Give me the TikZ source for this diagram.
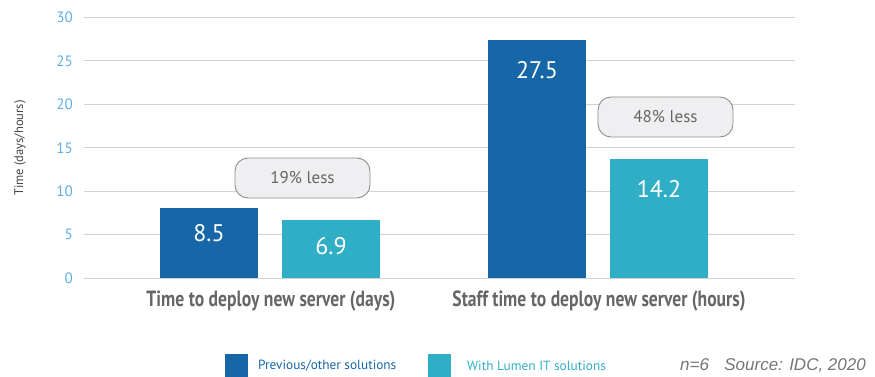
\documentclass[tikz,border=0pt]{standalone}
\usepackage{fontspec}
\setmainfont{PT Sans}
\newfontfamily\cond[FakeStretch=0.80]{PT Sans}
\newfontfamily\srcfont{Liberation Sans}
\definecolor{darkbar}{HTML}{1766A8}
\definecolor{tealbar}{HTML}{30AEC6}
\definecolor{gridc}{HTML}{D2D2D2}
\definecolor{tickc}{HTML}{5CAEE2}
\definecolor{labc}{HTML}{666666}
\definecolor{titc}{HTML}{444444}
\definecolor{bubfill}{HTML}{EFEFF1}
\definecolor{bubdraw}{HTML}{8E8E8E}
\tikzset{
  gridline/.style={draw=gridc, line width=1pt},
  tick/.style={anchor=east, text=tickc, font=\fontsize{15}{15}\selectfont, inner sep=0pt},
  barA/.style={fill=darkbar, draw=none, minimum width=98pt, anchor=south, inner sep=0pt},
  barB/.style={fill=tealbar, draw=none, minimum width=98pt, anchor=south, inner sep=0pt},
  val/.style={text=white, font=\fontsize{24}{24}\selectfont, inner sep=0pt},
  bubble/.style={fill=bubfill, draw=bubdraw, line width=0.9pt, rounded corners=13pt, minimum width=135pt, minimum height=40pt, text=labc, font=\fontsize{17}{17}\selectfont, inner sep=0pt},
  cat/.style={text=labc, font=\cond\bfseries\fontsize{22}{22}\selectfont, inner sep=0pt},
  legbox/.style={minimum width=23pt, minimum height=23pt, inner sep=0pt, draw=none},
  legtxt/.style={anchor=west, font=\fontsize{13.3}{13.3}\selectfont, inner sep=0pt},
}
\begin{document}
\begin{tikzpicture}[x=1pt,y=-1pt]
\useasboundingbox (0,0) rectangle (875,377);
% grid
\foreach \v/\yy in {0/278,5/234.6,10/191.2,15/147.8,20/104.4,25/61,30/17.5}{
  \draw[gridline] (84,\yy) -- (795,\yy);
  \node[tick] (t\v) at (73,\yy) {\v};
}
\node[rotate=90, text=titc, font=\fontsize{12.5}{12.5}\selectfont, inner sep=0pt] (ytitle) at (20,148) {Time (days/hours)};
% bars
\node[barA, minimum height=70pt] (b1) at (209,278) {};
\node[barB, minimum height=58pt] (b2) at (331,278) {};
\node[barA, minimum height=238pt] (b3) at (537,278) {};
\node[barB, minimum height=119pt] (b4) at (659,278) {};
\node[val] (v1) at (209,233) {8.5};
\node[val] (v2) at (331,246) {6.9};
\node[val] (v3) at (537,70) {27.5};
\node[val] (v4) at (659,189) {14.2};
% bubbles
\node[bubble] (p1) at (302.5,178) {19\% less};
\node[bubble] (p2) at (665.5,117) {48\% less};
% categories
\node[cat] (c1) at (271,301) {Time to deploy new server (days)};
\node[cat] (c2) at (599,301) {Staff time to deploy new server (hours)};
% legend
\node[legbox, fill=darkbar] (l1) at (236.5,365.5) {};
\node[legtxt, text=darkbar] (lt1) at (258,366) {Previous/other solutions};
\node[legbox, fill=tealbar] (l2) at (439.5,365.5) {};
\node[legtxt, text=tealbar] (lt2) at (467,366) {With Lumen IT solutions};
\node[anchor=east, text=labc!90, font=\srcfont\itshape\fontsize{17}{17}\selectfont, inner sep=0pt] (src) at (866,366) {n=6\hspace{0.9em}Source: IDC, 2020};
\end{tikzpicture}
\end{document}
